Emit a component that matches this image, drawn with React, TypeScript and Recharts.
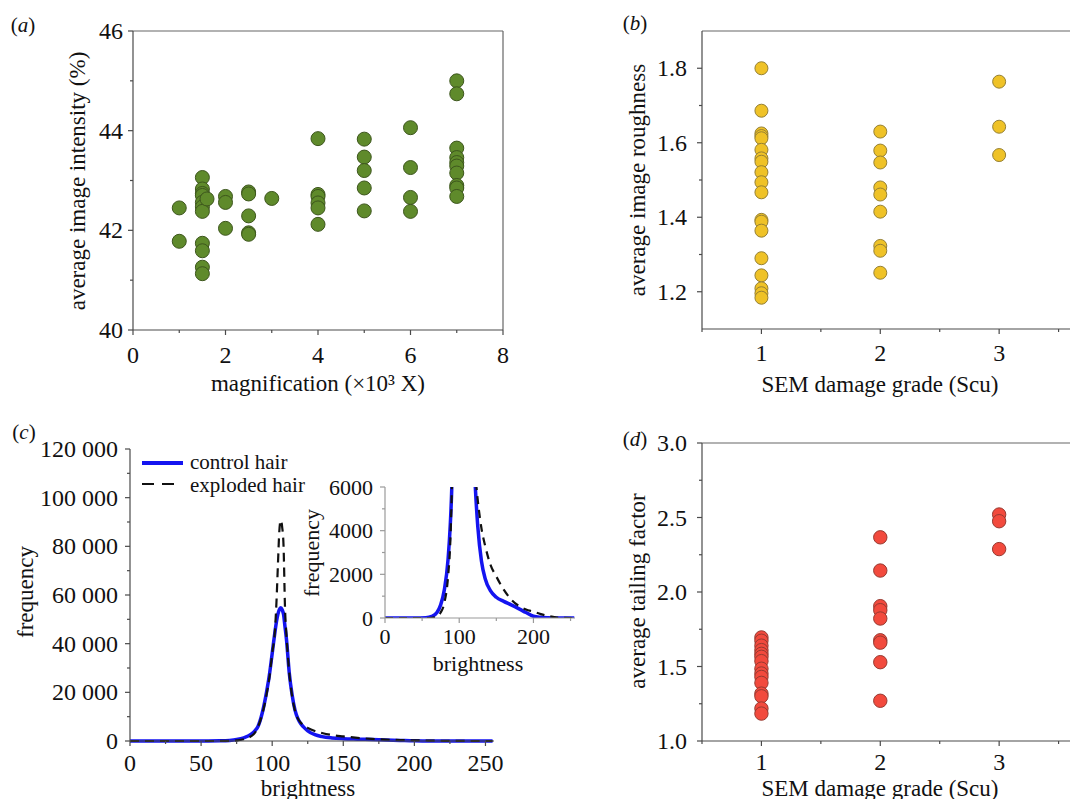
import React from 'react';
import { ScatterChart, Scatter, LineChart, Line, XAxis, YAxis, ReferenceLine } from 'recharts';

const FONT = '"Liberation Serif", "Times New Roman", Tinos, "DejaVu Serif", "Noto Serif", serif';
const AXIS = '#4a4a4a';

// (a) magnification vs average image intensity
const magnification = [
  1, 1,
  1.5, 1.5, 1.5, 1.5, 1.5, 1.5, 1.5, 1.5, 1.5, 1.5, 1.5, 1.6,
  2, 2, 2,
  2.5, 2.5, 2.5, 2.5, 2.5,
  3,
  4, 4, 4, 4, 4, 4,
  5, 5, 5, 5, 5,
  6, 6, 6, 6,
  7, 7, 7, 7, 7, 7, 7, 7, 7, 7,
];
const intensity = [
  42.45, 41.78,
  43.06, 42.83, 42.74, 42.7, 42.56, 42.47, 42.38, 41.74, 41.59, 41.26, 41.13, 42.63,
  42.68, 42.56, 42.04,
  42.77, 42.73, 42.29, 41.95, 41.92,
  42.64,
  43.84, 42.72, 42.68, 42.55, 42.45, 42.12,
  43.83, 43.47, 43.2, 42.85, 42.39,
  44.06, 43.26, 42.66, 42.38,
  45.0, 44.74, 43.65, 43.46, 43.36, 43.29, 43.15, 42.9, 42.85, 42.68,
];

// (b) SEM damage grade vs average image roughness
const gradeB = [
  1, 1, 1, 1, 1, 1, 1, 1, 1, 1, 1, 1, 1, 1, 1, 1, 1, 1, 1,
  2, 2, 2, 2, 2, 2, 2, 2, 2,
  3, 3, 3,
];
const roughness = [
  1.8, 1.686, 1.625, 1.618, 1.612, 1.581, 1.558, 1.549, 1.521, 1.494, 1.467, 1.393, 1.388, 1.364, 1.29, 1.244, 1.209, 1.196, 1.184,
  1.63, 1.579, 1.547, 1.48, 1.461, 1.415, 1.323, 1.31, 1.251,
  1.764, 1.643, 1.567,
];

// (d) SEM damage grade vs average tailing factor
const gradeD = [
  1, 1, 1, 1, 1, 1, 1, 1, 1, 1, 1, 1, 1, 1, 1,
  2, 2, 2, 2, 2, 2, 2, 2, 2,
  3, 3, 3,
];
const tailing = [
  1.695, 1.673, 1.64, 1.61, 1.585, 1.565, 1.536, 1.485, 1.453, 1.43, 1.39, 1.318, 1.3, 1.218, 1.184,
  2.367, 2.144, 1.905, 1.878, 1.822, 1.676, 1.66, 1.529, 1.27,
  2.52, 2.475, 2.288,
];

// (c) brightness histograms
const brightness = [
  0, 20, 40, 55, 63, 70, 75, 80, 85, 88,
  90, 93, 96, 98, 100, 102, 103, 104, 105, 106,
  107, 108, 109, 110, 112, 114, 116, 118, 120, 122,
  125, 130, 135, 142, 150, 160, 170, 180, 190, 200,
  210, 220, 230, 240, 255,
];
const controlHair = [
  0, 0, 0, 15, 70, 250, 600, 1300, 2700, 4300,
  6000, 11500, 20000, 27000, 36000, 45000, 49000, 52000, 54000, 54800,
  54000, 52000, 47000, 42000, 28000, 19000, 12800, 9300, 7200, 5800,
  4200, 2600, 1800, 1250, 950, 760, 600, 430, 250, 80,
  30, 10, 0, 0, 0,
];
const explodedHair = [
  0, 0, 0, 0, 10, 80, 250, 700, 1900, 3500,
  5800, 11000, 19000, 26000, 36000, 46000, 57000, 72000, 86000, 90700,
  88000, 80000, 55000, 44000, 28000, 18500, 12500, 9300, 7600, 6500,
  5400, 4100, 3300, 2450, 1900, 1300, 850, 560, 390, 290,
  180, 90, 30, 5, 0,
];

const ticksAX = [0, 1, 2, 3, 4, 5, 6, 7, 8];
const majorsAX = [0, 2, 4, 6, 8];
const ticksAY = [40, 41, 42, 43, 44, 45, 46];
const majorsAY = [40, 42, 44, 46];
const ticksGrade = [0.5, 1, 1.5, 2, 2.5, 3, 3.5];
const majorsGrade = [1, 2, 3];
const ticksBY = [1.2, 1.3, 1.4, 1.5, 1.6, 1.7, 1.8];
const majorsBY = [1.2, 1.4, 1.6, 1.8];
const ticksDY = [1, 1.25, 1.5, 1.75, 2, 2.25, 2.5, 2.75, 3];
const majorsDY = [1, 1.5, 2, 2.5, 3];
const ticksCX = [0, 25, 50, 75, 100, 125, 150, 175, 200, 225, 250];
const majorsCX = [0, 50, 100, 150, 200, 250];
const ticksCY = [0, 10000, 20000, 30000, 40000, 50000, 60000, 70000, 80000, 90000, 100000, 110000, 120000];
const majorsCY = [0, 20000, 40000, 60000, 80000, 100000, 120000];
const ticksInsetX = [0, 50, 100, 150, 200, 250];
const majorsInsetX = [0, 100, 200];
const ticksInsetY = [0, 1000, 2000, 3000, 4000, 5000, 6000];
const majorsInsetY = [0, 2000, 4000, 6000];

const dataA = magnification.map((x, i) => ({ x, y: intensity[i] }));
const dataB = gradeB.map((x, i) => ({ x, y: roughness[i] }));
const dataD = gradeD.map((x, i) => ({ x, y: tailing[i] }));
const dataC = brightness.map((b, i) => ({ b, control: controlHair[i], exploded: explodedHair[i] }));

const isMajor = (v: number, majors: number[]) => majors.some((m) => Math.abs(m - v) < 1e-6);
const thousands = (v: number) => (v >= 10000 ? `${Math.floor(v / 1000)} ${String(v % 1000).padStart(3, '0')}` : String(v));

type TickOpts = { majors: number[]; fmt: (v: number) => string; gap: number; size?: number; color?: string };

const xTick = (o: TickOpts) => (p: any) => {
  const v = p.payload.value;
  const major = isMajor(v, o.majors);
  return (
    <g>
      <line x1={p.x} x2={p.x} y1={p.y} y2={p.y + (major ? 5 : 3)} stroke={o.color ?? AXIS} strokeWidth={1.2} />
      {major && (
        <text x={p.x} y={p.y + o.gap} textAnchor="middle" dominantBaseline="central" fontFamily={FONT} fontSize={o.size ?? 24} fill="#111">
          {o.fmt(v)}
        </text>
      )}
    </g>
  );
};

const yTick = (o: TickOpts) => (p: any) => {
  const v = p.payload.value;
  const major = isMajor(v, o.majors);
  return (
    <g>
      <line x1={p.x} x2={p.x - (major ? 5 : 3)} y1={p.y} y2={p.y} stroke={o.color ?? AXIS} strokeWidth={1.2} />
      {major && (
        <text x={p.x - o.gap} y={p.y} textAnchor="end" dominantBaseline="central" fontFamily={FONT} fontSize={o.size ?? 24} fill="#111">
          {o.fmt(v)}
        </text>
      )}
    </g>
  );
};

const dot = (fill: string, stroke: string, r: number) => (p: any) => (
  <circle cx={p.cx} cy={p.cy} r={r} fill={fill} stroke={stroke} strokeWidth={1} />
);

const Txt = ({ x, y, rotate, size = 23, anchor = 'center', children }: { x: number; y: number; rotate?: boolean; size?: number; anchor?: 'center' | 'left'; children: React.ReactNode }) => (
  <div
    style={{
      position: 'absolute',
      left: x,
      top: y,
      transform: `translate(${anchor === 'left' ? '0' : '-50%'}, -50%)${rotate ? ' rotate(-90deg)' : ''}`,
      fontFamily: FONT,
      fontSize: size,
      lineHeight: 1,
      whiteSpace: 'nowrap',
      color: '#111',
    }}
  >
    {children}
  </div>
);

const Panel = ({ letter, x, y }: { letter: string; x: number; y: number }) => (
  <Txt x={x} y={y} size={21}>
    (<i>{letter}</i>)
  </Txt>
);

const axisProps = { tickSize: 0, tickMargin: 0, interval: 0 as const, tickLine: false, stroke: AXIS, strokeWidth: 1.2 };

const App: React.FC = () => {
  return (
    <div style={{ position: 'absolute', left: 0, top: 0, width: 1070, height: 799, overflow: 'hidden', background: '#fff' }}>
      {/* (a) */}
      <div style={{ position: 'absolute', left: 0, top: 0 }}>
        <ScatterChart width={520} height={400} margin={{ top: 31, right: 17, bottom: 0, left: 0 }}>
          <XAxis type="number" dataKey="x" domain={[0, 8]} ticks={ticksAX} height={70} {...axisProps}
            tick={xTick({ majors: majorsAX, fmt: String, gap: 25 })} />
          <YAxis type="number" dataKey="y" domain={[40, 46]} ticks={ticksAY} width={133} {...axisProps}
            tick={yTick({ majors: majorsAY, fmt: String, gap: 10 })} />
          <ReferenceLine y={46} stroke="#666" strokeWidth={1.2} />
          <ReferenceLine x={8} stroke="#666" strokeWidth={1.2} />
          <Scatter data={dataA} isAnimationActive={false} shape={dot('#5f8a2b', '#3d561d', 7)} />
        </ScatterChart>
      </div>

      {/* (b) */}
      <div style={{ position: 'absolute', left: 530, top: 0 }}>
        <ScatterChart width={588} height={400} margin={{ top: 31, right: 0, bottom: 0, left: 0 }}>
          <XAxis type="number" dataKey="x" domain={[0.5, 4]} ticks={ticksGrade} height={71} {...axisProps}
            tick={xTick({ majors: majorsGrade, fmt: String, gap: 24 })} />
          <YAxis type="number" dataKey="y" domain={[1.1, 1.9]} ticks={ticksBY} width={172} {...axisProps}
            tick={yTick({ majors: majorsBY, fmt: (v) => v.toFixed(1), gap: 15 })} />
          <ReferenceLine y={1.9} stroke="#666" strokeWidth={1.2} />
          <Scatter data={dataB} isAnimationActive={false} shape={dot('#efc227', '#958034', 6.5)} />
        </ScatterChart>
      </div>

      {/* (c) */}
      <div style={{ position: 'absolute', left: 0, top: 400 }}>
        <LineChart width={524} height={399} data={dataC} margin={{ top: 49, right: 30, bottom: 0, left: 0 }}>
          <XAxis type="number" dataKey="b" domain={[0, 256]} ticks={ticksCX} height={58} {...axisProps}
            tick={xTick({ majors: majorsCX, fmt: String, gap: 22 })} />
          <YAxis type="number" domain={[0, 120000]} ticks={ticksCY} width={130} {...axisProps}
            tick={yTick({ majors: majorsCY, fmt: thousands, gap: 12 })} />
          <Line type="monotone" dataKey="control" stroke="#1414f0" strokeWidth={3.5} dot={false} isAnimationActive={false} />
          <Line type="monotone" dataKey="exploded" stroke="#111" strokeWidth={2.2} strokeDasharray="9 6" dot={false} isAnimationActive={false} />
        </LineChart>
      </div>

      {/* (c) inset */}
      <div style={{ position: 'absolute', left: 300, top: 470 }}>
        <LineChart width={275} height={200} data={dataC} margin={{ top: 17, right: 0, bottom: 0, left: 0 }}>
          <XAxis type="number" dataKey="b" domain={[0, 256]} ticks={ticksInsetX} height={52} {...axisProps} stroke="#9a9a9a"
            tick={xTick({ majors: majorsInsetX, fmt: String, gap: 18, size: 22, color: '#9a9a9a' })} />
          <YAxis type="number" domain={[0, 6000]} ticks={ticksInsetY} width={85} allowDataOverflow {...axisProps} stroke="#9a9a9a"
            tick={yTick({ majors: majorsInsetY, fmt: String, gap: 12, size: 22, color: '#9a9a9a' })} />
          <Line type="monotone" dataKey="control" stroke="#1414f0" strokeWidth={3.5} dot={false} isAnimationActive={false} />
          <Line type="monotone" dataKey="exploded" stroke="#111" strokeWidth={2.2} strokeDasharray="8 6" dot={false} isAnimationActive={false} />
        </LineChart>
      </div>

      {/* (d) */}
      <div style={{ position: 'absolute', left: 530, top: 400 }}>
        <ScatterChart width={588} height={399} margin={{ top: 43, right: 0, bottom: 0, left: 0 }}>
          <XAxis type="number" dataKey="x" domain={[0.5, 4]} ticks={ticksGrade} height={58} {...axisProps}
            tick={xTick({ majors: majorsGrade, fmt: String, gap: 21 })} />
          <YAxis type="number" dataKey="y" domain={[1, 3]} ticks={ticksDY} width={172} {...axisProps}
            tick={yTick({ majors: majorsDY, fmt: (v) => v.toFixed(1), gap: 15 })} />
          <ReferenceLine y={3} stroke="#666" strokeWidth={1.2} />
          <Scatter data={dataD} isAnimationActive={false} shape={dot('#f24a3d', '#973a31', 6.7)} />
        </ScatterChart>
      </div>

      {/* legend for (c) */}
      <svg style={{ position: 'absolute', left: 140, top: 452 }} width={46} height={44}>
        <line x1={2} x2={43} y1={11} y2={11} stroke="#1414f0" strokeWidth={4} />
        <line x1={2} x2={34} y1={32} y2={32} stroke="#111" strokeWidth={2.2} strokeDasharray="12 8" />
      </svg>
      <Txt x={190} y={462} size={21} anchor="left">control hair</Txt>
      <Txt x={190} y={485} size={21} anchor="left">exploded hair</Txt>

      {/* panel letters */}
      <Panel letter="a" x={23} y={25} />
      <Panel letter="b" x={635} y={23} />
      <Panel letter="c" x={24} y={432} />
      <Panel letter="d" x={635} y={439} />

      {/* axis titles */}
      <Txt x={77} y={181} rotate>average image intensity (%)</Txt>
      <Txt x={318} y={383}>magnification (×10³ X)</Txt>
      <Txt x={637} y={180} rotate>average image roughness</Txt>
      <Txt x={880} y={384}>SEM damage grade (Scu)</Txt>
      <Txt x={25} y={592} rotate>frequency</Txt>
      <Txt x={308} y={788}>brightness</Txt>
      <Txt x={312} y={553} rotate size={22}>frequency</Txt>
      <Txt x={478} y={664} size={22}>brightness</Txt>
      <Txt x={637} y={591} rotate>average tailing factor</Txt>
      <Txt x={880} y={788}>SEM damage grade (Scu)</Txt>
    </div>
  );
};

export default App;
